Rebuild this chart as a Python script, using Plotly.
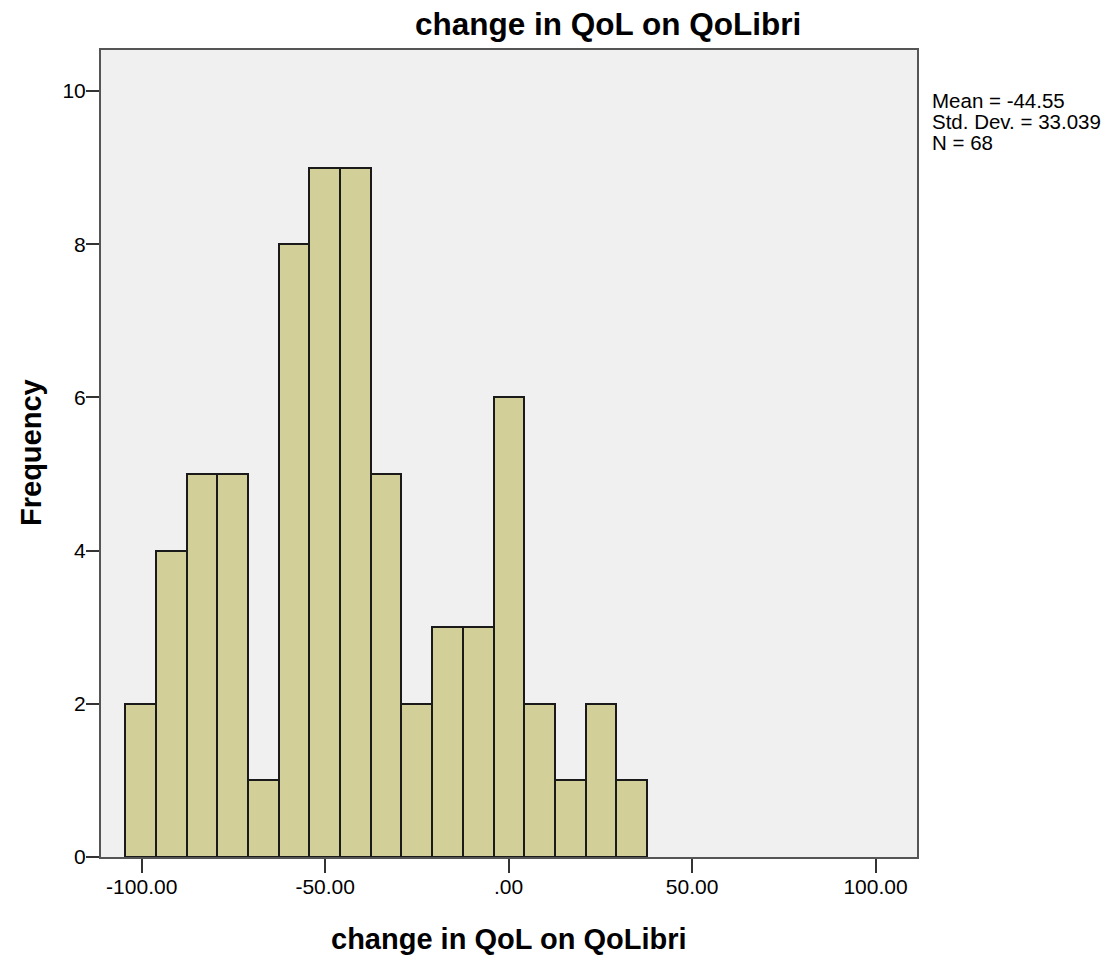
import plotly.graph_objects as go

# ---- data ----
BIN_START = -104.5
BIN_WIDTH = 8.366
COUNTS = [2, 4, 5, 5, 1, 8, 9, 9, 5, 2, 3, 3, 6, 2, 1, 2, 1]
X_TICK_VALS = [-100, -50, 0, 50, 100]
X_TICK_TEXT = ["-100.00", "-50.00", ".00", "50.00", "100.00"]
Y_TICK_VALS = [0, 2, 4, 6, 8, 10]
STATS = ["Mean = -44.55", "Std. Dev. = 33.039", "N = 68"]
TITLE = "change in QoL on QoLibri"
X_TITLE = "change in QoL on QoLibri"
Y_TITLE = "Frequency"

centers = [BIN_START + BIN_WIDTH * (i + 0.5) for i in range(len(COUNTS))]

W, H = 1113, 955
L, R, T, B = 101, 196, 50, 98
PW = W - L - R
PH = H - T - B

def px_x(px):
    return (px - L) / PW

def px_y(py):
    return (H - B - py) / PH

FONT = "Liberation Sans, Arial, sans-serif"

fig = go.Figure()
fig.add_trace(go.Bar(
    x=centers, y=COUNTS, width=[BIN_WIDTH] * len(COUNTS),
    marker=dict(color="#D3CF98", line=dict(color="#1a1a1a", width=2)),
    hoverinfo="skip",
))

annotations = [
    dict(text="<b>%s</b>" % TITLE, x=px_x(608), y=px_y(24), xref="paper", yref="paper",
         xanchor="center", yanchor="middle", showarrow=False,
         font=dict(family=FONT, size=31.5, color="black")),
    dict(text="<b>%s</b>" % X_TITLE, x=px_x(509), y=px_y(939), xref="paper", yref="paper",
         xanchor="center", yanchor="middle", showarrow=False,
         font=dict(family=FONT, size=29, color="black")),
    dict(text="<b>%s</b>" % Y_TITLE, x=px_x(31), y=px_y(453), xref="paper", yref="paper",
         xanchor="center", yanchor="middle", showarrow=False, textangle=-90,
         font=dict(family=FONT, size=29, color="black")),
]
for i, s in enumerate(STATS):
    annotations.append(dict(text=s, x=px_x(930), y=px_y(101 + 20.5 * i), xref="paper", yref="paper",
                            xanchor="left", yanchor="middle", showarrow=False,
                            font=dict(family=FONT, size=20.5, color="black")))

fig.update_layout(
    width=W, height=H,
    margin=dict(l=L, r=R, t=T, b=B, pad=0),
    paper_bgcolor="white",
    plot_bgcolor="#F0F0F0",
    showlegend=False,
    bargap=0,
    annotations=annotations,
    font=dict(family=FONT, color="black"),
    xaxis=dict(range=[-111.1, 111.3], tickvals=X_TICK_VALS, ticktext=X_TICK_TEXT,
               ticks="outside", ticklen=14, tickwidth=2, tickcolor="#333",
               ticklabelstandoff=-4,
               showgrid=False, zeroline=False, showline=True, linecolor="#555",
               linewidth=2, mirror=True, tickfont=dict(family=FONT, size=21, color="black")),
    yaxis=dict(range=[0, 10.535], tickvals=Y_TICK_VALS,
               ticks="outside", ticklen=13, tickwidth=2, tickcolor="#333",
               ticklabelstandoff=-4,
               showgrid=False, zeroline=False, showline=True, linecolor="#555",
               linewidth=2, mirror=True, tickfont=dict(family=FONT, size=21, color="black")),
)

fig.write_html("out.html", config={"displayModeBar": False},
               post_script="document.body.style.margin='0';document.body.style.overflow='hidden';")
